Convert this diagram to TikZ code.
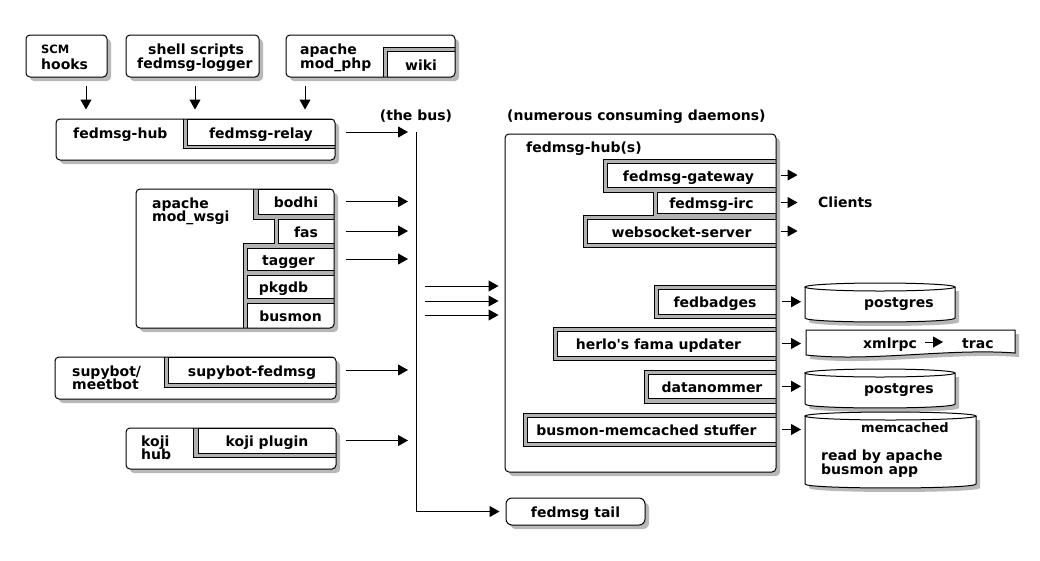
\documentclass[tikz,border=0pt]{standalone}
\usepackage{fontspec}
\setmainfont{DejaVu Sans}[Ligatures=TeXOff]
\usetikzlibrary{arrows.meta,fit}
\tikzset{
  every node/.style={font=\fontsize{14}{16}\selectfont\bfseries, inner sep=0pt, text height=12pt, text depth=0pt},
  lw/.style={line width=1pt},
  arr/.style={lw, -{Triangle[length=10pt,width=11pt]}},
  shadowc/.style={fill=black!28},
  band/.style={fill=black!30},
  ibox/.style={draw, fill=white, lw, inner sep=0pt},
  obox/.style={draw, lw, rounded corners=4pt, inner sep=0pt},
  txt/.style={anchor=west},
}
\newcommand\ibxt[7][0pt]{%
  \node[ibox, fit={(#3,#4)(#5,#6)}] (#2) {};
  \node (#2t) at ([xshift=#1]#2.center) {#7};}
\begin{document}
\begin{tikzpicture}[x=1pt,y=-1pt]
\useasboundingbox (0,0) rectangle (1040,560);
\fill[white] (0,0) rectangle (1040,560);

% ---------- SCM hooks
\fill[shadowc,rounded corners=4pt] (30,39) rectangle (111,81);
\node[obox, fill=white, fit={(26,35)(107,77)}] (scm) {};
\node[txt, font=\fontsize{11.5}{12}\selectfont\bfseries] (scm1) at (41,47.5) {SCM};
\node[txt] (scm2) at (41,63) {hooks};

% ---------- shell scripts
\fill[shadowc,rounded corners=4pt] (130,39) rectangle (263,81);
\node[obox, fill=white, fit={(126,35)(259,77)}] (shell) {};
\node[txt] (sh1) at (148,48) {shell scripts};
\node[txt] (sh2) at (137,62) {fedmsg-logger};

% ---------- apache mod_php / wiki
\fill[shadowc,rounded corners=4pt] (290,39) rectangle (459,81);
\fill[white,rounded corners=4pt] (286,35) rectangle (455,77);
\begin{scope}
  \clip[rounded corners=4pt] (286,35) rectangle (455,77);
  \fill[band] (383,47) rectangle (455,77);
  \draw[lw] (455,47) -- (383,47) -- (383,77);
  \ibxt{wiki}{387}{51}{455}{77}{wiki}
\end{scope}
\node[obox, fit={(286,35)(455,77)}] (apache) {};
\node[txt] (ap1) at (300,48) {apache};
\node[txt] (ap2) at (300,62) {mod\_php};

% ---------- fedmsg-hub / fedmsg-relay
\fill[shadowc,rounded corners=4pt] (60,123) rectangle (339,164);
\fill[white,rounded corners=4pt] (56,119) rectangle (335,160);
\begin{scope}
  \clip[rounded corners=4pt] (56,119) rectangle (335,160);
  \fill[band] (183,119) rectangle (335,148);
  \draw[lw] (183,119) -- (183,148) -- (335,148);
  \ibxt{relay}{187}{119}{335}{145}{fedmsg-relay}
\end{scope}
\node[obox, fit={(56,119)(335,160)}] (hub) {};
\node[txt] (hubt) at (73,132) {fedmsg-hub};

% ---------- apache mod_wsgi
\fill[shadowc,rounded corners=4pt] (140,193) rectangle (338,332);
\fill[white,rounded corners=4pt] (136,189) rectangle (334,328);
\begin{scope}
  \clip[rounded corners=4pt] (136,189) rectangle (334,328);
  \fill[band] (253,189) -- (334,189) -- (334,328) -- (243,328) -- (243,243) -- (274,243) -- (274,219) -- (253,219) -- cycle;
  \draw[lw] (253,189) -- (253,219) -- (274,219) -- (274,243) -- (243,243) -- (243,328);
  \ibxt{bodhi}{258}{189}{334}{214}{bodhi}
  \ibxt{fas}{278}{219}{334}{243}{fas}
  \ibxt[-2pt]{tagger}{247}{248}{334}{270}{tagger}
  \ibxt[-7pt]{pkgdb}{247}{275}{334}{298}{pkgdb}
  \ibxt{busmon}{247}{303}{334}{328}{busmon}
\end{scope}
\node[obox, fit={(136,189)(334,328)}] (wsgi) {};
\node[txt] (ws1) at (152,202) {apache};
\node[txt] (ws2) at (152,215) {mod\_wsgi};

% ---------- supybot
\fill[shadowc,rounded corners=4pt] (59,361) rectangle (340,403);
\fill[white,rounded corners=4pt] (55,357) rectangle (336,399);
\begin{scope}
  \clip[rounded corners=4pt] (55,357) rectangle (336,399);
  \fill[band] (164,357) rectangle (336,387);
  \draw[lw] (164,357) -- (164,387) -- (336,387);
  \ibxt{supyf}{168}{357}{336}{383}{supybot-fedmsg}
\end{scope}
\node[obox, fit={(55,357)(336,399)}] (supy) {};
\node[txt] (sp1) at (72,370) {supybot/};
\node[txt] (sp2) at (72,383) {meetbot};

% ---------- koji
\fill[shadowc,rounded corners=4pt] (130,432) rectangle (340,473);
\fill[white,rounded corners=4pt] (126,428) rectangle (336,469);
\begin{scope}
  \clip[rounded corners=4pt] (126,428) rectangle (336,469);
  \fill[band] (193,428) rectangle (336,457);
  \draw[lw] (193,428) -- (193,457) -- (336,457);
  \ibxt{kojip}{198}{428}{336}{453}{koji plugin}
\end{scope}
\node[obox, fit={(126,428)(336,469)}] (koji) {};
\node[txt] (kj1) at (141,440) {koji};
\node[txt] (kj2) at (141,453) {hub};

% ---------- fedmsg-hub(s)
\fill[shadowc,rounded corners=4pt] (509,138) rectangle (780,476);
\fill[white,rounded corners=4pt] (505,134) rectangle (776,472);
\begin{scope}
  \clip[rounded corners=4pt] (505,134) rectangle (776,472);
  \fill[band] (603,159) -- (776,159) -- (776,247) -- (583,247) -- (583,215) -- (653,215) -- (653,192) -- (603,192) -- cycle;
  \draw[lw] (776,159) -- (603,159) -- (603,192) -- (653,192) -- (653,215) -- (583,215) -- (583,247) -- (776,247);
  \ibxt[-3pt]{gateway}{607}{163}{776}{187}{fedmsg-gateway}
  \ibxt[-5pt]{irc}{657}{192}{776}{213}{fedmsg-irc}
  \ibxt{wsock}{587}{219}{776}{243}{websocket-server}
  \fill[band] (654,285) rectangle (776,318);
  \draw[lw] (776,285) -- (654,285) -- (654,318) -- (776,318);
  \ibxt[-2pt]{badges}{658}{289.5}{776}{314}{fedbadges}
  \fill[band] (553,327) rectangle (776,360);
  \draw[lw] (776,327) -- (553,327) -- (553,360) -- (776,360);
  \ibxt[-8pt]{herlo}{557}{331}{776}{356}{herlo's fama updater}
  \fill[band] (644,370.5) rectangle (776,403);
  \draw[lw] (776,370.5) -- (644,370.5) -- (644,403) -- (776,403);
  \ibxt{datan}{648}{374.6}{776}{398}{datanommer}
  \fill[band] (523,413) rectangle (776,446);
  \draw[lw] (776,413) -- (523,413) -- (523,446) -- (776,446);
  \ibxt[-5pt]{stuffer}{527}{417}{776}{442}{busmon-memcached stuffer}
\end{scope}
\node[obox, fit={(505,134)(776,472)}] (hubs) {};
\node[txt] (hubst) at (526,146) {fedmsg-hub(s)};

% ---------- fedmsg tail
\fill[shadowc,rounded corners=6pt] (510,502) rectangle (649,529);
\node[obox, rounded corners=6pt, fill=white, fit={(506,498)(645,525)}] (tail) {};
\node (tailt) at (tail.center) {fedmsg tail};

% ---------- cylinders
\fill[shadowc] (809,291) -- (809,322) .. controls (809,327.3) and (959,327.3) .. (959,322) -- (959,291) -- cycle;
\filldraw[fill=white,lw] (805,287) -- (805,318) .. controls (805,323.3) and (955,323.3) .. (955,318) -- (955,287);
\filldraw[fill=white,lw] (880,287) ellipse [x radius=75pt, y radius=4pt];
\coordinate (pg1) at (805,302);
\node[txt] (pg1t) at (864,301) {postgres};

\fill[shadowc] (809,377) -- (809,408) .. controls (809,413.3) and (959,413.3) .. (959,408) -- (959,377) -- cycle;
\filldraw[fill=white,lw] (805,373) -- (805,404) .. controls (805,409.3) and (955,409.3) .. (955,404) -- (955,373);
\filldraw[fill=white,lw] (880,373) ellipse [x radius=75pt, y radius=4pt];
\coordinate (pg2) at (805,388);
\node[txt] (pg2t) at (864,387) {postgres};

\fill[shadowc] (809,420) -- (809,488) .. controls (809,493.3) and (980,493.3) .. (980,488) -- (980,420) -- cycle;
\filldraw[fill=white,lw] (805,416) -- (805,484) .. controls (805,489.3) and (976,489.3) .. (976,484) -- (976,416);
\filldraw[fill=white,lw] (890.5,416) ellipse [x radius=85.5pt, y radius=4pt];
\coordinate (mc) at (805,429);
\node[txt, font=\fontsize{13}{15}\selectfont\bfseries] (mct) at (861,426) {memcached};
\node[txt] (mc1) at (821,454) {read by apache};
\node[txt] (mc2) at (821,468) {busmon app};

% ---------- xmlrpc document
\fill[shadowc] (810,334) -- (1019,334) -- (1019,357) .. controls (954,352) and (874,366) .. (810,359) -- cycle;
\filldraw[fill=white,lw] (806,330) -- (1015,330) -- (1015,353) .. controls (950,348) and (870,362) .. (806,355) -- cycle;
\coordinate (xml) at (806,344);
\node[txt] (xmlt) at (863,342) {xmlrpc};
\node[txt] (trac) at (962,342) {trac};

% ---------- free labels
\node (buslbl) at (416,114) {(the bus)};
\node[txt] (cons) at (507,114) {(numerous consuming daemons)};
\node[txt] (clients) at (818,201) {Clients};

% ---------- bus
\coordinate (bus) at (416,132);
\draw[arr, shorten >=6pt] (bus) |- (tail.west);

% ---------- down arrows
\coordinate (d1) at ([shift={(19.5pt,-8pt)}]scm.south);
\coordinate (d2) at ([shift={(2.5pt,-8pt)}]shell.south);
\coordinate (d3) at ([shift={(-65.5pt,-8pt)}]apache.south);
\draw[arr, shorten >=9pt] (d1) -- (d1 |- hub.north);
\draw[arr, shorten >=9pt] (d2) -- (d2 |- hub.north);
\draw[arr, shorten >=9pt] (d3) -- (d3 |- hub.north);

% ---------- producers into the bus
\draw[arr, shorten >=8pt] ([xshift=10pt]relay.east) -- (relay.east -| bus);
\draw[arr, shorten >=8pt] ([xshift=11pt]bodhi.east) -- (bodhi.east -| bus);
\draw[arr, shorten >=8pt] ([xshift=11pt]fas.east) -- (fas.east -| bus);
\draw[arr, shorten >=8pt] ([xshift=11pt]tagger.east) -- (tagger.east -| bus);
\draw[arr, shorten >=8pt] ([xshift=9pt]supyf.east) -- (supyf.east -| bus);
\draw[arr, shorten >=8pt] ([xshift=9pt]kojip.east) -- (kojip.east -| bus);

% ---------- bus into consumers
\coordinate (m1) at (425,286);
\coordinate (m2) at (425,301);
\coordinate (m3) at (425,315);
\draw[arr, shorten >=6pt] (m1) -- (m1 -| hubs.west);
\draw[arr, shorten >=6pt] (m2) -- (m2 -| hubs.west);
\draw[arr, shorten >=6pt] (m3) -- (m3 -| hubs.west);

% ---------- consumer outputs
\draw[arr] ([xshift=4pt]gateway.east) -- ([xshift=21pt]gateway.east);
\draw[arr] ([xshift=4pt]irc.east) -- ([xshift=21pt]irc.east);
\draw[arr] ([xshift=4pt]wsock.east) -- ([xshift=21pt]wsock.east);
\draw[arr, shorten >=4pt] ([xshift=5pt]badges.east) -- (badges.east -| pg1);
\draw[arr, shorten >=5pt] ([xshift=5pt]herlo.east) -- (herlo.east -| xml);
\draw[arr, shorten >=4pt] ([xshift=5pt]datan.east) -- (datan.east -| pg2);
\draw[arr, shorten >=4pt] ([xshift=5pt]stuffer.east) -- (stuffer.east -| mc);
\draw[arr, shorten >=19pt] ([xshift=8pt]xmlt.east) -- (trac.west);
\end{tikzpicture}
\end{document}
